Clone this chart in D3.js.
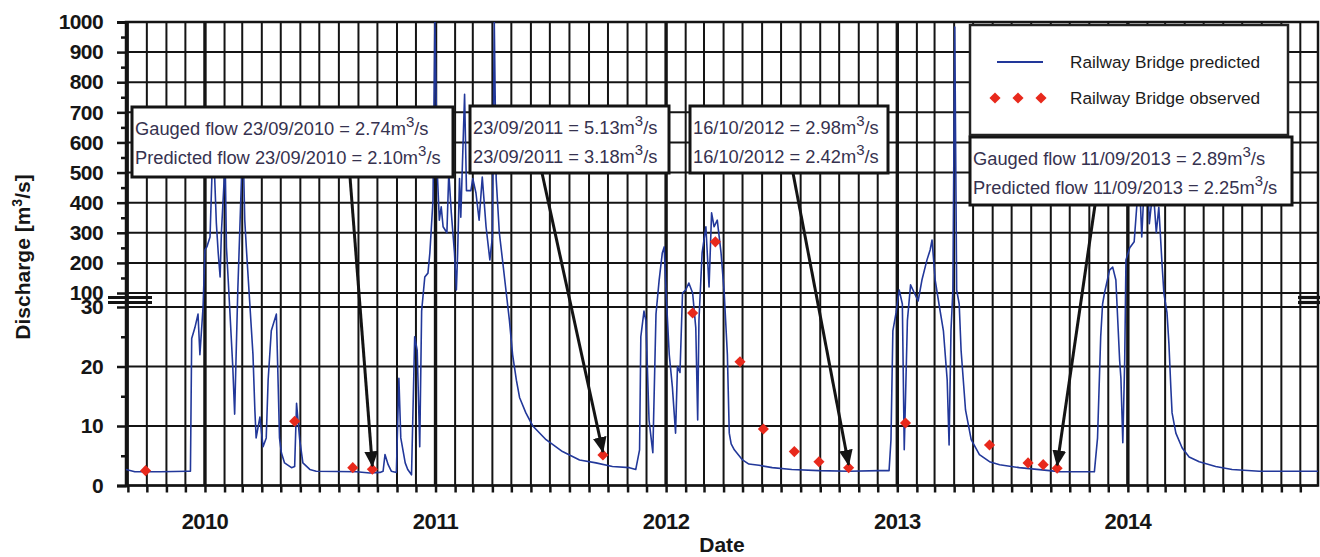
<!DOCTYPE html>
<html>
<head>
<meta charset="utf-8">
<script src="https://cdn.jsdelivr.net/npm/d3@7"></script>
<style>
  html, body { margin: 0; padding: 0; background: #fff; }
  svg { display: block; font-family: "Liberation Sans", Arial, sans-serif; }
</style>
</head>
<body>
<script>
// Predicted daily flow (date, m3/s)
const predicted = [
  ["2009-08-29", 2.7], ["2009-09-12", 2.3], ["2009-10-22", 2.3], ["2009-12-05", 2.4], ["2009-12-09", 2.4],
  ["2009-12-11", 24.7], ["2009-12-16", 26.5], ["2009-12-21", 28.8], ["2009-12-24", 22], ["2009-12-29", 30],
  ["2010-01-01", 243], ["2010-01-04", 253], ["2010-01-09", 286], ["2010-01-14", 620], ["2010-01-19", 333],
  ["2010-01-22", 233], ["2010-01-25", 153], ["2010-01-27", 300], ["2010-02-02", 540], ["2010-02-04", 253],
  ["2010-02-09", 35], ["2010-02-14", 20], ["2010-02-17", 12], ["2010-02-19", 20.5], ["2010-02-22", 110],
  ["2010-02-25", 300], ["2010-03-02", 620], ["2010-03-05", 342], ["2010-03-08", 233], ["2010-03-13", 45],
  ["2010-03-18", 22], ["2010-03-21", 12.7], ["2010-03-23", 8], ["2010-03-29", 11.5], ["2010-04-03", 6.5],
  ["2010-04-08", 8], ["2010-04-11", 17.7], ["2010-04-16", 26], ["2010-04-24", 28.8], ["2010-04-27", 16.5],
  ["2010-04-29", 8], ["2010-05-02", 5.5], ["2010-05-07", 3.8], ["2010-05-18", 3], ["2010-05-23", 3.2],
  ["2010-05-26", 13.8], ["2010-05-31", 7.7], ["2010-06-05", 3.8], ["2010-06-16", 2.7], ["2010-06-26", 2.4],
  ["2010-08-29", 2.3], ["2010-09-19", 2.1], ["2010-10-05", 2.2], ["2010-10-10", 2.4], ["2010-10-13", 5.2],
  ["2010-10-18", 3.5], ["2010-10-23", 2.4], ["2010-10-31", 2.2], ["2010-11-04", 18], ["2010-11-07", 8],
  ["2010-11-14", 3.8], ["2010-11-18", 2.7], ["2010-11-24", 1.8], ["2010-11-29", 25], ["2010-12-03", 22.7],
  ["2010-12-07", 6.5], ["2010-12-10", 29.3], ["2010-12-15", 153], ["2010-12-20", 166], ["2010-12-23", 233],
  ["2010-12-28", 409], ["2010-12-31", 1000], ["2011-01-04", 490], ["2011-01-07", 342], ["2011-01-10", 386],
  ["2011-01-13", 320], ["2011-01-19", 300], ["2011-01-22", 500], ["2011-01-26", 366], ["2011-01-31", 233],
  ["2011-02-03", 110], ["2011-02-05", 233], ["2011-02-08", 480], ["2011-02-10", 352], ["2011-02-16", 760],
  ["2011-02-19", 440], ["2011-02-26", 440], ["2011-03-01", 480], ["2011-03-06", 432], ["2011-03-11", 342],
  ["2011-03-16", 485], ["2011-03-22", 320], ["2011-03-28", 210], ["2011-04-01", 286], ["2011-04-04", 1000],
  ["2011-04-07", 480], ["2011-04-12", 300], ["2011-04-17", 210], ["2011-04-23", 100], ["2011-04-28", 27.7],
  ["2011-05-03", 22], ["2011-05-09", 17.7], ["2011-05-14", 14.8], ["2011-05-24", 12.2], ["2011-06-04", 10],
  ["2011-06-25", 7.7], ["2011-07-21", 5.7], ["2011-08-17", 4.3], ["2011-09-12", 3.8], ["2011-10-08", 3.2],
  ["2011-11-04", 3.0], ["2011-11-14", 2.7], ["2011-11-20", 6], ["2011-11-22", 25], ["2011-11-27", 29.3],
  ["2011-11-30", 27.7], ["2011-12-05", 11], ["2011-12-11", 5.5], ["2011-12-16", 28.8], ["2011-12-21", 143],
  ["2011-12-26", 233], ["2011-12-29", 253], ["2012-01-01", 100], ["2012-01-06", 22], ["2012-01-11", 16.5],
  ["2012-01-16", 8.8], ["2012-01-19", 20], ["2012-01-23", 19], ["2012-01-27", 100], ["2012-02-01", 110],
  ["2012-02-06", 133], ["2012-02-12", 100], ["2012-02-17", 26.5], ["2012-02-20", 11], ["2012-02-22", 27.7],
  ["2012-02-27", 233], ["2012-03-04", 320], ["2012-03-09", 120], ["2012-03-13", 366], ["2012-03-17", 320],
  ["2012-03-22", 342], ["2012-03-28", 233], ["2012-04-02", 100], ["2012-04-07", 22], ["2012-04-10", 8.8],
  ["2012-04-13", 7], ["2012-04-18", 6], ["2012-05-01", 4.3], ["2012-05-11", 3.6], ["2012-05-27", 3.4],
  ["2012-06-17", 3.0], ["2012-07-18", 2.7], ["2012-08-30", 2.5], ["2012-10-17", 2.4], ["2012-12-03", 2.5],
  ["2012-12-19", 2.5], ["2012-12-22", 7.7], ["2012-12-25", 26], ["2012-12-30", 29], ["2013-01-04", 110],
  ["2013-01-09", 45], ["2013-01-12", 6], ["2013-01-17", 27.7], ["2013-01-22", 127], ["2013-01-28", 100],
  ["2013-02-03", 60], ["2013-02-09", 143], ["2013-02-17", 210], ["2013-02-22", 243], ["2013-02-25", 276],
  ["2013-03-02", 143], ["2013-03-08", 45], ["2013-03-15", 26], ["2013-03-21", 17.7], ["2013-03-24", 6.8],
  ["2013-03-27", 26], ["2013-03-30", 110], ["2013-04-02", 983], ["2013-04-05", 110], ["2013-04-09", 45],
  ["2013-04-12", 22.7], ["2013-04-19", 12.7], ["2013-04-28", 7.7], ["2013-05-11", 5.2], ["2013-05-27", 4],
  ["2013-06-12", 3.5], ["2013-07-13", 3], ["2013-08-30", 2.5], ["2013-09-15", 2.3], ["2013-10-16", 2.3],
  ["2013-11-09", 2.3], ["2013-11-14", 8], ["2013-11-19", 25], ["2013-11-22", 45], ["2013-11-25", 100],
  ["2013-12-03", 176], ["2013-12-08", 186], ["2013-12-13", 143], ["2013-12-19", 21], ["2013-12-21", 18],
  ["2013-12-24", 7.2], ["2013-12-27", 21], ["2013-12-29", 210], ["2014-01-04", 250], ["2014-01-11", 270],
  ["2014-01-19", 500], ["2014-01-23", 286], ["2014-01-30", 600], ["2014-02-04", 330], ["2014-02-10", 450],
  ["2014-02-15", 300], ["2014-02-19", 385], ["2014-02-24", 200], ["2014-02-27", 100], ["2014-03-04", 29],
  ["2014-03-07", 23.8], ["2014-03-10", 16.5], ["2014-03-12", 12.2], ["2014-03-18", 8.8], ["2014-03-28", 6.3],
  ["2014-04-08", 4.8], ["2014-04-24", 4], ["2014-05-20", 3.2], ["2014-06-15", 2.7], ["2014-07-28", 2.4],
  ["2014-10-29", 2.4]
];

// Gauged (observed) flows
const observedDates = ["2009-09-29", "2010-05-23", "2010-08-23", "2010-09-23", "2011-09-23", "2012-02-12",
  "2012-03-19", "2012-04-27", "2012-06-03", "2012-07-22", "2012-08-30", "2012-10-16", "2013-01-14",
  "2013-05-27", "2013-07-27", "2013-08-20", "2013-09-11"];
const observedFlow = [2.5, 10.8, 3.0, 2.74, 5.13, 29, 270, 20.8, 9.5, 5.7, 4, 2.98, 10.5, 6.8, 3.8, 3.5, 2.89];

// Callouts: gauged vs predicted on a given day
const noteDates = ["2010-09-23", "2011-09-23", "2012-10-16", "2013-09-11"];
const noteGauged = ["2.74", "5.13", "2.98", "2.89"];
const notePredicted = ["2.10", "3.18", "2.42", "2.25"];
const noteWithWords = [true, false, false, true];

// Axis ticks
const lowerTicks = [0, 10, 20, 30];
const upperTicks = [100, 200, 300, 400, 500, 600, 700, 800, 900, 1000];
const lowerMinor = [5, 15, 25];
const upperMinor = [150, 250, 350, 450, 550, 650, 750, 850, 950];
const yearTicks = ["2010", "2011", "2012", "2013", "2014"];
const dateRange = ["2009-08-29", "2014-10-29"];

// ---- layout ----
const width = 1320, height = 557;
const plotLeft = 126, plotRight = 1318, plotTop = 22, plotBottom = 485.5;
const ink = "#141414";
const lineBlue = "#22389a";
const red = "#e8291c";
const parse = d3.timeParse("%Y-%m-%d");
const fmt = d3.timeFormat("%d/%m/%Y");

const series = predicted.map(([d, v]) => ({ date: parse(d), value: v }));
const observed = observedDates.map((d, i) => ({ date: parse(d), value: observedFlow[i] }));

const x = d3.scaleTime().domain(dateRange.map(parse)).range([plotLeft, plotRight]);
// broken axis: 0-30 on the bottom part, 100-1000 on the top part
const y = d3.scaleLinear().domain([0, 30, 100, 1000]).range([plotBottom, 307, 293, plotTop]);

const svg = d3.select("body").append("svg")
  .attr("width", width).attr("height", height)
  .attr("viewBox", [0, 0, width, height]);

svg.append("rect").attr("width", width).attr("height", height).attr("fill", "#fff");

const defs = svg.append("defs");
defs.append("clipPath").attr("id", "plot")
  .append("rect").attr("x", plotLeft).attr("y", plotTop)
  .attr("width", plotRight - plotLeft).attr("height", plotBottom - plotTop);

defs.append("marker")
  .attr("id", "head").attr("markerUnits", "userSpaceOnUse")
  .attr("viewBox", "0 0 14 12").attr("refX", 13).attr("refY", 6)
  .attr("markerWidth", 16).attr("markerHeight", 14).attr("orient", "auto")
  .append("path").attr("d", "M0,0 L14,6 L0,12 Z").attr("fill", ink);

// ---- grid ----
const grid = svg.append("g");
const months = d3.timeMonth.range(x.domain()[0], x.domain()[1]);
grid.selectAll(".vgrid").data(months).join("line")
  .attr("x1", d => x(d)).attr("x2", d => x(d))
  .attr("y1", plotTop).attr("y2", plotBottom)
  .attr("stroke", ink)
  .attr("stroke-width", d => d.getMonth() === 0 ? 3.4 : 2);

grid.selectAll(".hgrid").data(lowerTicks.concat(upperTicks)).join("line")
  .attr("x1", plotLeft).attr("x2", plotRight)
  .attr("y1", d => y(d)).attr("y2", d => y(d))
  .attr("stroke", ink).attr("stroke-width", 2);

svg.append("rect")
  .attr("x", plotLeft).attr("y", plotTop)
  .attr("width", plotRight - plotLeft).attr("height", plotBottom - plotTop)
  .attr("fill", "none").attr("stroke", ink).attr("stroke-width", 2.5);

// ---- y axis ----
const major = svg.append("g")
  .attr("transform", `translate(${plotLeft},0)`)
  .call(d3.axisLeft(y).tickValues(lowerTicks.concat(upperTicks)).tickSize(9).tickPadding(14).tickFormat(d3.format("d")));
major.select(".domain").attr("stroke", ink).attr("stroke-width", 3);
major.selectAll(".tick line").attr("stroke", ink).attr("stroke-width", 2.5);
major.selectAll(".tick text")
  .attr("fill", "#161616").style("font-size", "21px").style("font-weight", "bold")
  .style("letter-spacing", "-0.6px");

const minor = svg.append("g")
  .attr("transform", `translate(${plotLeft},0)`)
  .call(d3.axisLeft(y).tickValues(lowerMinor.concat(upperMinor)).tickSize(5).tickFormat(""));
minor.select(".domain").remove();
minor.selectAll(".tick line").attr("stroke", ink).attr("stroke-width", 2.5);

// axis break marks
[[108, 152], [1298, 1320]].forEach(([a, b]) => {
  [297.5, 302.5].forEach(yy => {
    svg.append("line").attr("x1", a).attr("x2", b).attr("y1", yy).attr("y2", yy)
      .attr("stroke", ink).attr("stroke-width", 3.2);
  });
});

// ---- x axis ----
const xAxis = svg.append("g")
  .attr("transform", `translate(0,${plotBottom})`)
  .call(d3.axisBottom(x).tickValues(months).tickSize(7).tickFormat(""));
xAxis.select(".domain").remove();
xAxis.selectAll(".tick line").attr("stroke", ink).attr("stroke-width", 2.5);

svg.append("g").selectAll("text").data(yearTicks).join("text")
  .attr("x", d => x(parse(d + "-01-01")))
  .attr("y", 529)
  .attr("text-anchor", "middle")
  .attr("fill", "#161616")
  .style("font-size", "22px").style("font-weight", "bold").style("letter-spacing", "-0.6px")
  .text(d => d);

svg.append("text")
  .attr("x", (plotLeft + plotRight) / 2).attr("y", 552)
  .attr("text-anchor", "middle").attr("fill", "#161616")
  .style("font-size", "21px").style("font-weight", "bold")
  .text("Date");

const yLab = svg.append("text")
  .attr("transform", "translate(30,257) rotate(-90)")
  .attr("text-anchor", "middle").attr("fill", "#161616")
  .style("font-size", "21px").style("font-weight", "bold");
yLab.append("tspan").text("Discharge [m");
yLab.append("tspan").attr("dy", -8).style("font-size", "14px").text("3");
yLab.append("tspan").attr("dy", 8).text("/s]");

// ---- data ----
svg.append("path")
  .datum(series)
  .attr("clip-path", "url(#plot)")
  .attr("fill", "none")
  .attr("stroke", lineBlue)
  .attr("stroke-width", 1.6)
  .attr("stroke-linejoin", "round")
  .attr("d", d3.line().x(d => x(d.date)).y(d => y(d.value)));

const diamond = d3.symbol(d3.symbolSquare, 62);
svg.append("g").selectAll("path").data(observed).join("path")
  .attr("transform", d => `translate(${x(d.date)},${y(d.value)}) rotate(45)`)
  .attr("d", diamond)
  .attr("fill", red);

// ---- callouts ----
const boxes = [
  { x: 132, y: 107, w: 321, h: 70, tail: [350, 177] },
  { x: 470, y: 106, w: 199, h: 67, tail: [542, 173] },
  { x: 690, y: 106, w: 198, h: 67, tail: [793, 173] },
  { x: 970, y: 137, w: 322, h: 68, tail: [1095, 205] }
];

noteDates.forEach((nd, i) => {
  const obs = observed.find(o => +o.date === +parse(nd));
  const b = boxes[i];
  svg.append("line")
    .attr("x1", b.tail[0]).attr("y1", b.tail[1])
    .attr("x2", x(obs.date)).attr("y2", y(obs.value) - 3)
    .attr("stroke", ink).attr("stroke-width", 3)
    .attr("marker-end", "url(#head)");
});

noteDates.forEach((nd, i) => {
  const b = boxes[i];
  const g = svg.append("g");
  g.append("rect").attr("x", b.x).attr("y", b.y).attr("width", b.w).attr("height", b.h)
    .attr("fill", "#fff").attr("stroke", ink).attr("stroke-width", 3);
  const day = fmt(parse(nd));
  const rows = [
    (noteWithWords[i] ? "Gauged flow " : "") + day + " = " + noteGauged[i],
    (noteWithWords[i] ? "Predicted flow " : "") + day + " = " + notePredicted[i]
  ];
  rows.forEach((r, k) => {
    const t = g.append("text")
      .attr("x", b.x + 3).attr("y", b.y + 28 + k * 29)
      .attr("fill", "#36324f")
      .style("font-size", "18.3px");
    t.append("tspan").text(r + "m");
    t.append("tspan").attr("dy", -8).style("font-size", "15px").text("3");
    t.append("tspan").attr("dy", 8).text("/s");
  });
});

// ---- legend ----
const lg = svg.append("g");
lg.append("rect").attr("x", 970).attr("y", 25).attr("width", 318).attr("height", 110)
  .attr("fill", "#fff").attr("stroke", "#222").attr("stroke-width", 2.5);
lg.append("line").attr("x1", 997).attr("x2", 1043).attr("y1", 62).attr("y2", 62)
  .attr("stroke", lineBlue).attr("stroke-width", 2);
lg.selectAll(".ld").data([995, 1018, 1041]).join("path")
  .attr("transform", d => `translate(${d},98) rotate(45)`)
  .attr("d", diamond).attr("fill", red);
lg.append("text").attr("x", 1070).attr("y", 68).attr("fill", "#1c1c1c")
  .style("font-size", "17.2px").text("Railway Bridge predicted");
lg.append("text").attr("x", 1070).attr("y", 104).attr("fill", "#1c1c1c")
  .style("font-size", "17.2px").text("Railway Bridge observed");
</script>
</body>
</html>
